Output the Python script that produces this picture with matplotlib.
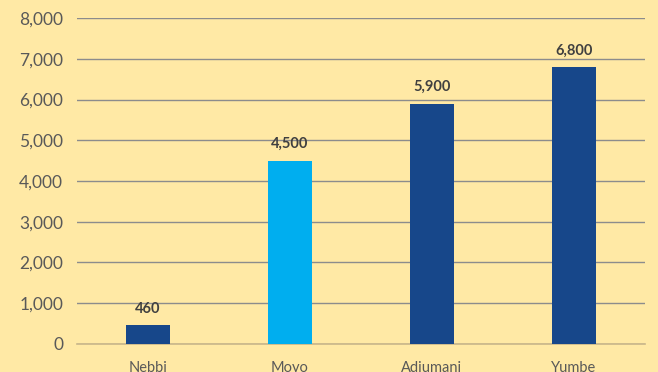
import matplotlib.pyplot as plt
from matplotlib.ticker import FuncFormatter

districts = ["Nebbi", "Moyo", "Adjumani", "Yumbe"]
values = [460, 4500, 5900, 6800]
bar_colors = ["#17478a", "#00aeef", "#17478a", "#17478a"]

plt.rcParams["font.family"] = ["Lato", "DejaVu Sans"]

bg = "#ffe9a5"
fig = plt.figure(figsize=(6.58, 3.72), dpi=100, facecolor=bg)
ax = fig.add_axes([0.117, 0.0753, 0.863, 0.8763], facecolor=bg)

x = range(len(districts))
bars = ax.bar(x, values, width=0.31, color=bar_colors, zorder=3)

for rect, v in zip(bars, values):
    ax.text(rect.get_x() + rect.get_width() / 2, v + 230, f"{v:,}",
            ha="center", va="bottom", fontsize=10.5, fontweight="bold",
            color="#404040")

ax.set_xlim(-0.5, len(districts) - 0.5)
ax.set_ylim(0, 8000)
ax.set_yticks(range(0, 8001, 1000))
ax.yaxis.set_major_formatter(FuncFormatter(lambda v, _: f"{int(v):,}"))
ax.set_xticks(list(x))
ax.set_xticklabels(districts)

ax.grid(axis="y", color="#8c8c8c", linewidth=1, zorder=0)
for side in ["top", "right", "left"]:
    ax.spines[side].set_visible(False)
ax.spines["bottom"].set_color("#c8b68a")
ax.spines["bottom"].set_linewidth(1.2)

ax.tick_params(axis="y", length=0, labelsize=12.5, labelcolor="#595959", pad=10)
ax.tick_params(axis="x", length=0, labelsize=10.5, labelcolor="#595959", pad=12)

fig.savefig("out.png", dpi=100, facecolor=bg)
